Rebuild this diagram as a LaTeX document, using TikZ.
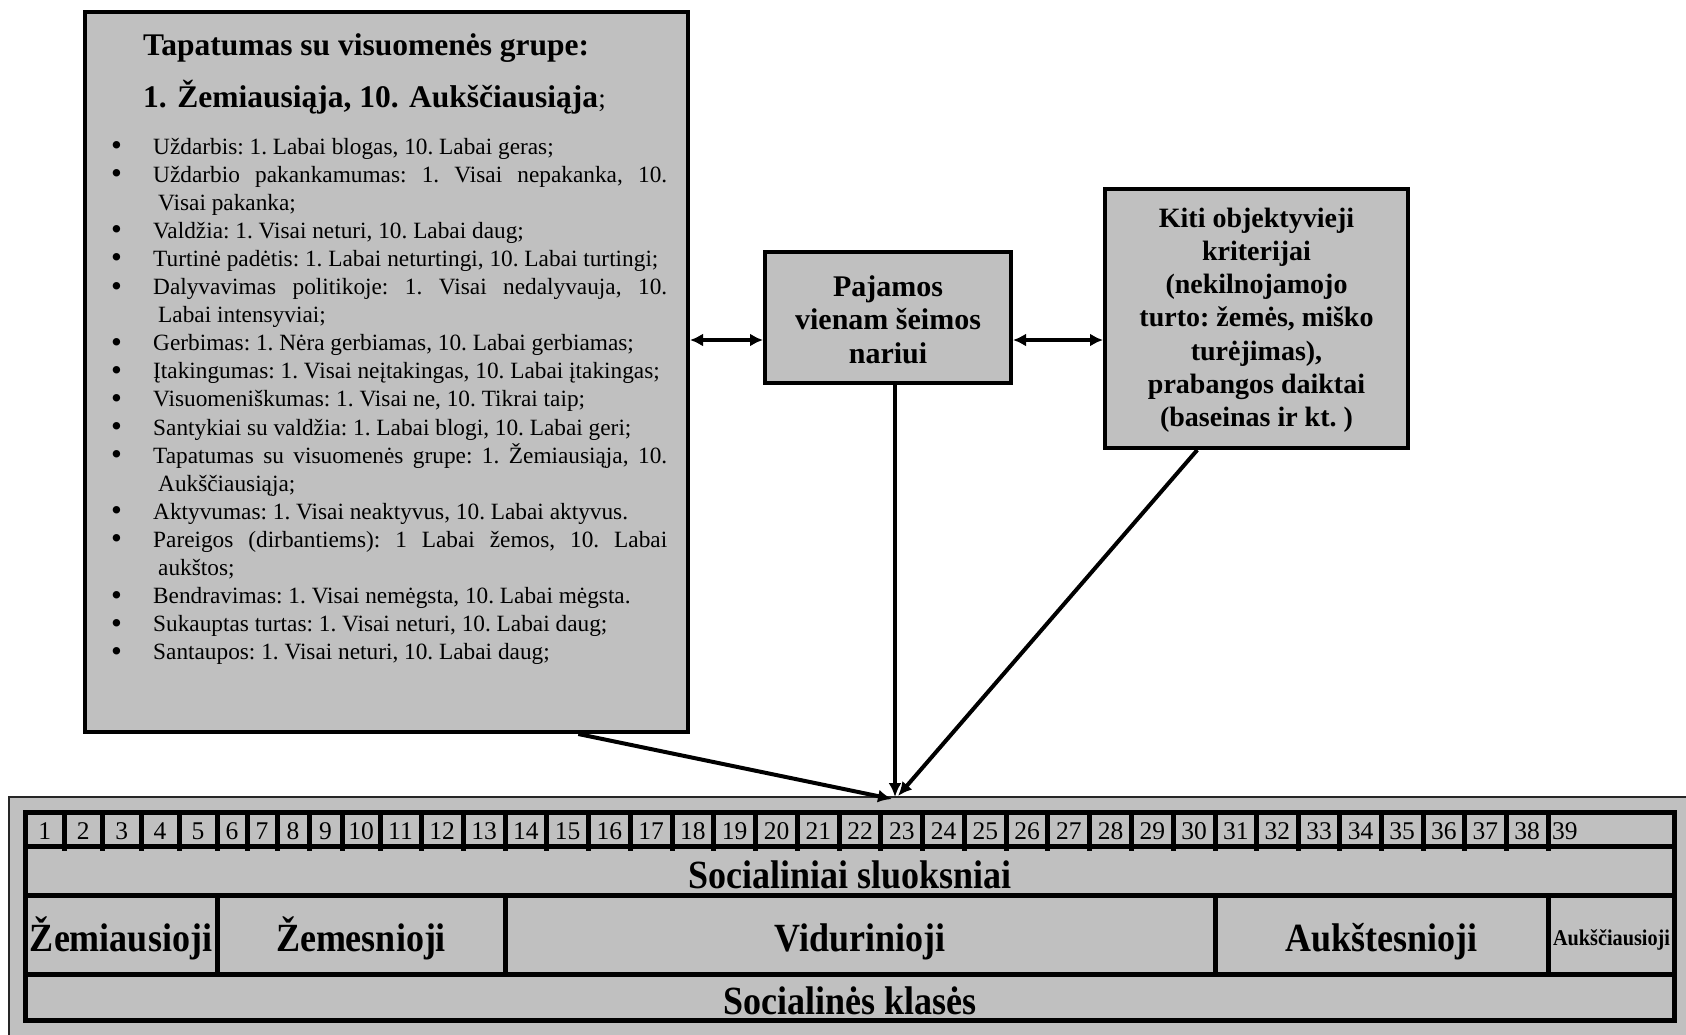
\documentclass[tikz,border=0pt]{standalone}
\usepackage{fontspec}
\setmainfont{Liberation Serif}
\newfontfamily\condf[FakeStretch=0.9]{Liberation Serif}
\usetikzlibrary{arrows.meta,calc}
\definecolor{boxgray}{HTML}{C0C0C0}
\newcommand\bigbul{\raisebox{-1.5pt}{\fontsize{31}{31}\selectfont\textbullet}}
\newcommand\lsitem[1]{\hbox{\hbox to 42pt{\bigbul\hfil}#1}}
\newcommand\lsjust[1]{\hbox{\hbox to 42pt{\bigbul\hfil}\hbox to 514pt{#1}}}
\newcommand\lscont[1]{\hbox{\hskip 47pt #1}}
\newcommand\ctrln[2]{\hbox to #1{\hfil #2\hfil}}
\begin{document}
\begin{tikzpicture}[x=1pt,y=-1pt,
  box/.style={draw, line width=4pt, fill=boxgray, inner sep=0pt},
  conn/.style={line width=4pt, -{Latex[length=14pt,width=13pt]}},
  dconn/.style={line width=4pt, {Latex[length=13pt,width=13pt]}-{Latex[length=13pt,width=13pt]}},
  tline/.style={line width=5pt},
  numtxt/.style={font=\fontsize{25.5}{25.5}\selectfont, inner sep=0pt, anchor=base},
  bigtxt/.style={font=\condf\bfseries\fontsize{40}{40}\selectfont, inner sep=0pt, anchor=base},
  plain/.style={inner sep=0pt}
]
\useasboundingbox (0,0) rectangle (1686,1034);
\fill[white] (0,0) rectangle (1686,1034);

% boxes
\node[box, minimum width=603pt, minimum height=720pt] (L) at (386.5,372) {};
\node[box, minimum width=246pt, minimum height=131pt] (M) at (888,317.5) {};
\node[box, minimum width=303pt, minimum height=259pt] (R) at (1256.5,318.5) {};

% left box text
\node[plain, anchor=base west, font=\bfseries\fontsize{31.5}{31.5}\selectfont] (t1) at (143,55) {Tapatumas su visuomenės grupe:};
\node[plain, anchor=base west, font=\bfseries\fontsize{31.5}{31.5}\selectfont] (t2) at (143,107) {1. Žemiausiąja, 10. Aukščiausiąja{\mdseries\fontsize{27}{27}\selectfont;}};
\node[plain, anchor=base west, font=\fontsize{23.3}{28.1}\selectfont] (lst) at (111,154) {\vtop{\frenchspacing\baselineskip=28.1pt\lineskiplimit=-100pt\lineskip=0pt
\lsitem{Uždarbis: 1. Labai blogas, 10. Labai geras;}
\lsjust{Uždarbio pakankamumas: 1. Visai nepakanka, 10.}
\lscont{Visai pakanka;}
\lsitem{Valdžia: 1. Visai neturi, 10. Labai daug;}
\lsitem{Turtinė padėtis: 1. Labai neturtingi, 10. Labai turtingi;}
\lsjust{Dalyvavimas politikoje: 1. Visai nedalyvauja, 10.}
\lscont{Labai intensyviai;}
\lsitem{Gerbimas: 1. Nėra gerbiamas, 10. Labai gerbiamas;}
\lsitem{Įtakingumas: 1. Visai neįtakingas, 10. Labai įtakingas;}
\lsitem{Visuomeniškumas: 1. Visai ne, 10. Tikrai taip;}
\lsitem{Santykiai su valdžia: 1. Labai blogi, 10. Labai geri;}
\lsjust{Tapatumas su visuomenės grupe: 1. Žemiausiąja, 10.}
\lscont{Aukščiausiąja;}
\lsitem{Aktyvumas: 1. Visai neaktyvus, 10. Labai aktyvus.}
\lsjust{Pareigos (dirbantiems): 1 Labai žemos, 10. Labai}
\lscont{aukštos;}
\lsitem{Bendravimas: 1. Visai nemėgsta, 10. Labai mėgsta.}
\lsitem{Sukauptas turtas: 1. Visai neturi, 10. Labai daug;}
\lsitem{Santaupos: 1. Visai neturi, 10. Labai daug;}
}};

% middle box text
\node[plain, anchor=base, font=\bfseries\fontsize{30}{33.5}\selectfont] (mt) at (888,296) {\vtop{\baselineskip=33.5pt\lineskiplimit=-100pt\lineskip=0pt
\ctrln{240pt}{Pajamos}\ctrln{240pt}{vienam šeimos}\ctrln{240pt}{nariui}}};

% right box text
\node[plain, anchor=base, font=\bfseries\fontsize{28}{33.3}\selectfont] (rt) at (1256.5,227) {\vtop{\frenchspacing\baselineskip=33.3pt\lineskiplimit=-100pt\lineskip=0pt
\ctrln{296pt}{Kiti objektyvieji}\ctrln{296pt}{kriterijai}\ctrln{296pt}{(nekilnojamojo}\ctrln{296pt}{turto: žemės, miško}\ctrln{296pt}{turėjimas),}\ctrln{296pt}{prabangos daiktai}\ctrln{296pt}{(baseinas ir kt. )}}};

% bottom frame
\fill[boxgray] (9,797) rectangle (1690,1040);
\draw[line width=2pt, black!85] (9,1040) -- (9,797) -- (1690,797);

% table
\draw[tline] (25.5,812) rectangle (1674.5,1020.5);
\draw[tline] (25.5,846) -- (1674.5,846);
\draw[tline] (25.5,895.5) -- (1674.5,895.5);
\draw[tline] (25.5,974.5) -- (1674.5,974.5);
\foreach \a/\b [count=\i] in {25.5/64, 64/102.5, 102.5/141, 141/179, 179/217, 217/247, 247/277, 277/309, 309/342, 342/380, 380/421, 421/463, 463/505, 505/546.8, 546.8/588.5, 588.5/630.3, 630.3/672.1, 672.1/713.8, 713.8/755.6, 755.6/797.4, 797.4/839.1, 839.1/880.9, 880.9/922.6, 922.6/964.4, 964.4/1006.2, 1006.2/1047.9, 1047.9/1089.7, 1089.7/1131.5, 1131.5/1173.2, 1173.2/1215, 1215/1256.6, 1256.6/1298.2, 1298.2/1339.8, 1339.8/1381.4, 1381.4/1423, 1423/1464.6, 1464.6/1506.2, 1506.2/1548}{
  \draw[tline] (\b,812) -- (\b,851);
  \node[numtxt] (n\i) at ({(\a+\b)/2},839) {\i};
}
\node[numtxt, anchor=base west] (n39) at (1552,839) {39};
\foreach \x in {217,505,1215,1548}{
  \draw[tline] (\x,895.5) -- (\x,974.5);
}
\node[bigtxt] (sl) at (850,888) {Socialiniai sluoksniai};
\node[bigtxt] (c1) at (121,951) {Žemiausioji};
\node[bigtxt] (c2) at (361,951) {Žemesnioji};
\node[bigtxt] (c3) at (860,951) {Vidurinioji};
\node[bigtxt] (c4) at (1381.5,951) {Aukštesnioji};
\node[plain, anchor=base, font=\condf\bfseries\fontsize{22.5}{22.5}\selectfont] (c5) at (1611.5,945) {Aukščiausioji};
\node[bigtxt] (kl) at (850,1014) {Socialinės klasės};

% connectors
\coordinate (ay) at (0,340);
\coordinate (tA) at (892,799);
\coordinate (tB) at (895,797);
\coordinate (tC) at (898,796);
\draw[dconn] (L.east |- ay) -- (M.west |- ay);
\draw[dconn] (M.east |- ay) -- (R.west |- ay);
\draw[conn] ($(L.south west)!0.816!(L.south east)$) -- (tA);
\draw[conn] (M.south -| tB) -- (tB);
\draw[conn] ($(R.south west)!0.307!(R.south east)$) -- (tC);
\end{tikzpicture}
\end{document}
